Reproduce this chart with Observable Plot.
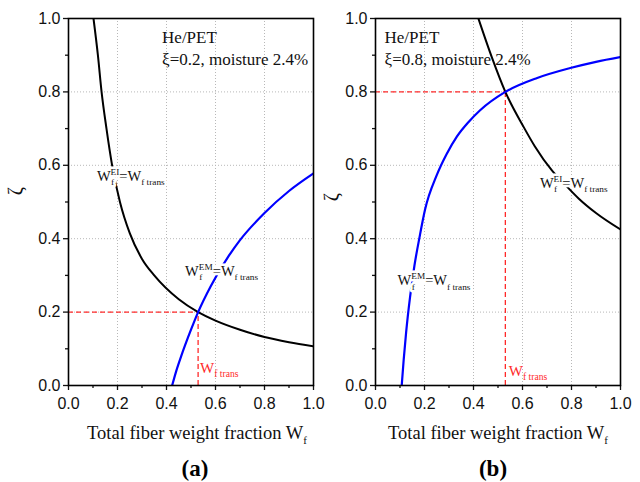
<!DOCTYPE html>
<html><head><meta charset="utf-8">
<script src="https://cdn.jsdelivr.net/npm/d3@7"></script>
<script src="https://cdn.jsdelivr.net/npm/@observablehq/plot@0.6"></script>
<style>
body{margin:0;background:#fff;}
#wrap{position:relative;width:640px;height:482px;overflow:hidden;background:#fff;}
#wrap svg{position:absolute;top:0;}
</style></head><body><div id="wrap"></div>
<script>
// ---- data ----
const majorTicks = [0, 0.2, 0.4, 0.6, 0.8, 1.0];
const minorTicks = [0.1, 0.3, 0.5, 0.7, 0.9];

// Panel (a): xi = 0.2
const eiAWf   = [0.102, 0.12, 0.135, 0.155, 0.178, 0.21, 0.25, 0.30, 0.35, 0.45, 0.529, 0.60, 0.70, 0.80, 0.90, 1.00];
const eiAZeta = [1.00, 0.90, 0.80, 0.70, 0.60, 0.50, 0.415, 0.345, 0.30, 0.235, 0.20, 0.177, 0.152, 0.132, 0.118, 0.107];
const emAWf   = [0.423, 0.44, 0.46, 0.50, 0.529, 0.58, 0.654, 0.70, 0.80, 0.90, 1.00];
const emAZeta = [0.00, 0.04, 0.08, 0.152, 0.20, 0.27, 0.353, 0.396, 0.47, 0.53, 0.578];

// Panel (b): xi = 0.8
const eiBWf   = [0.42, 0.475, 0.53, 0.605, 0.65, 0.72, 0.77, 0.83, 0.90, 1.00];
const eiBZeta = [1.00, 0.894, 0.80, 0.704, 0.652, 0.586, 0.55, 0.509, 0.47, 0.425];
const emBWf   = [0.107, 0.115, 0.125, 0.141, 0.159, 0.18, 0.2025, 0.25, 0.29, 0.332, 0.38, 0.427, 0.53, 0.66, 0.795, 0.90, 1.00];
const emBZeta = [0.00, 0.07, 0.145, 0.241, 0.327, 0.405, 0.48, 0.573, 0.63, 0.678, 0.718, 0.75, 0.80, 0.838, 0.865, 0.882, 0.895];

// transition points
const transWf   = [0.529, 0.53];
const transZeta = [0.2, 0.8];
const panelXi   = ["0.2", "0.8"];
const panelTags = ["(a)", "(b)"];

const zip = (xs, ys) => xs.map((x, i) => ({wf: x, zeta: ys[i]}));

const SERIF = "'Liberation Serif','Times New Roman',serif";
const RED = "#ff2a2a";
const wrap = document.getElementById("wrap");

function makePanel(i, ei, em, mL, mR, left) {
  const wf = transWf[i], z = transZeta[i];
  const svg = Plot.plot({
    width: 320, height: 482,
    marginLeft: mL, marginRight: mR, marginTop: 18, marginBottom: 97,
    x: {domain: [0, 1]}, y: {domain: [0, 1]},
    style: {fontFamily: "'Liberation Sans',Arial,sans-serif", fontSize: "16px", color: "#111", background: "transparent", overflow: "visible"},
    marks: [
      Plot.gridX(majorTicks, {stroke: "#b8b8b8", strokeOpacity: 1, strokeDasharray: "1,2"}),
      Plot.gridY(majorTicks, {stroke: "#b8b8b8", strokeOpacity: 1, strokeDasharray: "1,2"}),
      Plot.ruleY([{y: z, x1: 0, x2: wf}], {y: "y", x1: "x1", x2: "x2", stroke: RED, strokeWidth: 1.3, strokeDasharray: "5,3"}),
      Plot.ruleX([{x: wf, y1: 0, y2: z}], {x: "x", y1: "y1", y2: "y2", stroke: RED, strokeWidth: 1.3, strokeDasharray: "5,3"}),
      Plot.line(ei, {x: "wf", y: "zeta", curve: "monotone-x", stroke: "#000", strokeWidth: 2, clip: true}),
      Plot.line(em, {x: "wf", y: "zeta", curve: "monotone-x", stroke: "#0000ff", strokeWidth: 2.2, clip: true}),
      Plot.axisY(majorTicks, {tickSize: 5, tickPadding: 3, tickFormat: ".1f", label: null, strokeWidth: 1.3, fontSize: 16}),
      Plot.axisY(minorTicks, {tickSize: 3, tickFormat: () => "", label: null, strokeWidth: 1.3}),
      Plot.axisX(majorTicks, {tickSize: 5, tickPadding: 7, tickFormat: ".1f", label: null, strokeWidth: 1.3, fontSize: 16}),
      Plot.axisX(minorTicks, {tickSize: 3, tickFormat: () => "", label: null, strokeWidth: 1.3}),
      Plot.frame({stroke: "#000", strokeWidth: 1.6})
    ]
  });
  svg.style.left = left + "px";
  wrap.appendChild(svg);
  return svg;
}

const NS = "http://www.w3.org/2000/svg";
function txt(parent, x, y, s, size, fill, extra = {}) {
  const t = document.createElementNS(NS, "text");
  t.setAttribute("x", x); t.setAttribute("y", y);
  t.setAttribute("font-family", SERIF);
  t.setAttribute("font-size", size);
  t.setAttribute("fill", fill);
  t.setAttribute("text-anchor", "start");
  for (const k in extra) t.setAttribute(k, extra[k]);
  t.textContent = s;
  parent.appendChild(t);
  return t;
}

// rich label: parts [type, text] where type: n, sub, supsub([sup, sub])
function richLabel(svg, x, y, parts, size, fill, halo) {
  const gH = document.createElementNS(NS, "g");
  const gF = document.createElementNS(NS, "g");
  svg.appendChild(gH); svg.appendChild(gF);
  const small = size * 0.64;
  let cx = x;
  const put = (px, py, s, sz) => {
    if (halo) txt(gH, px, py, s, sz, "#fff", {stroke: "#fff", "stroke-width": 5, "stroke-linejoin": "round"});
    return txt(gF, px, py, s, sz, fill).getComputedTextLength();
  };
  for (const [type, s] of parts) {
    if (type === "n") cx += put(cx, y, s, size);
    else if (type === "sub") cx += put(cx, y + size * 0.3, s, small);
    else if (type === "supsub") {
      const w1 = put(cx, y - size * 0.42, s[0], small);
      const w2 = put(cx + 0.5, y + size * 0.3, s[1], small);
      cx += Math.max(w1, w2);
    }
  }
}

function decorate(svg, i, ei_pos, em_pos, red_pos, info_pos, zetaPos, titleX, tagX) {
  const sx = v => svg.scale("x").apply(v);
  const sy = v => svg.scale("y").apply(v);
  const fs = 14.5;
  richLabel(svg, sx(ei_pos[0]), sy(ei_pos[1]), [["n", "W"], ["supsub", ["EI", "f"]], ["n", "=W"], ["sub", "f trans"]], fs, "#111", true);
  richLabel(svg, sx(em_pos[0]), sy(em_pos[1]), [["n", "W"], ["supsub", ["EM", "f"]], ["n", "=W"], ["sub", "f trans"]], fs, "#111", true);
  richLabel(svg, sx(red_pos[0]), sy(red_pos[1]), [["n", "W"], ["sub", "f trans"]], 15, RED, false);
  txt(svg, sx(info_pos[0]), sy(info_pos[1]), "He/PET", 17, "#111");
  txt(svg, sx(info_pos[0]), sy(info_pos[2]), "ξ=" + panelXi[i] + ", moisture 2.4%", 17, "#111");
  // y axis title
  txt(svg, zetaPos[0], zetaPos[1], "ζ", 20, "#111", {"text-anchor": "middle", transform: `rotate(-90 ${zetaPos[0]} ${zetaPos[1]})`});
  // x axis title
  const t = txt(svg, titleX, 439, "Total fiber weight fraction W", 18.5, "#111", {"text-anchor": "middle"});
  const sub = document.createElementNS(NS, "tspan");
  sub.setAttribute("font-size", 11); sub.setAttribute("dy", 5); sub.textContent = "f";
  t.appendChild(sub);
  txt(svg, tagX, 476, panelTags[i], 23, "#000", {"text-anchor": "middle", "font-weight": "bold"});
}

const svgA = makePanel(0, zip(eiAWf, eiAZeta), zip(emAWf, emAZeta), 68, 7, 0);
const svgB = makePanel(1, zip(eiBWf, eiBZeta), zip(emBWf, emBZeta), 55, 20, 320);

decorate(svgA, 0, [0.118, 0.556], [0.478, 0.297], [0.539, 0.033], [0.384, 0.932, 0.872], [22, 191], 197, 195);
decorate(svgB, 1, [0.673, 0.537], [0.092, 0.272], [0.546, 0.025], [0.039, 0.932, 0.872], [18, 197], 178, 173);
</script>
</body></html>
